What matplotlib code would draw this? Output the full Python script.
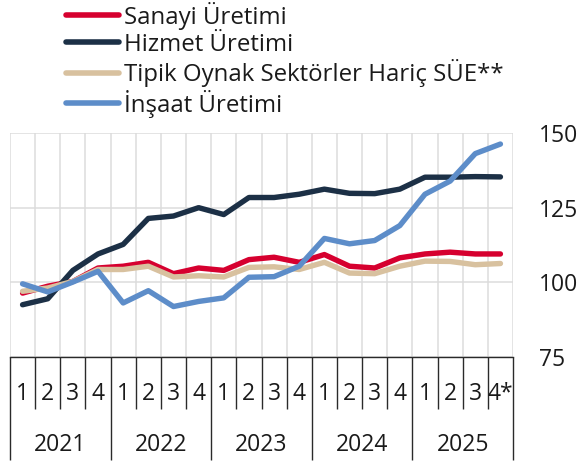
import matplotlib
matplotlib.use("Agg")
import matplotlib.pyplot as plt
from matplotlib.transforms import blended_transform_factory

plt.rcParams['font.family'] = ['Open Sans', 'DejaVu Sans']

years = ["2021", "2022", "2023", "2024", "2025"]
quarter_labels = ["1", "2", "3", "4"] * 4 + ["1", "2", "3", "4*"]

sanayi = [96.4, 98.7, 100.3, 104.8, 105.4, 106.7, 102.9, 104.8, 104.0, 107.6,
          108.4, 106.7, 109.3, 105.4, 104.8, 108.2, 109.5, 110.1, 109.5, 109.5]
hizmet = [92.5, 94.5, 104.0, 109.5, 112.7, 121.4, 122.2, 125.0, 122.7, 128.4,
          128.4, 129.5, 131.2, 129.8, 129.7, 131.2, 135.2, 135.2, 135.4, 135.3]
tipik = [97.0, 98.1, 100.3, 104.3, 104.3, 105.4, 101.8, 102.2, 101.8, 105.0,
         105.2, 104.3, 106.7, 103.1, 102.9, 105.4, 107.1, 107.0, 105.9, 106.3]
insaat = [99.5, 96.8, 100.1, 103.7, 93.1, 97.2, 91.9, 93.6, 94.8, 101.7,
          101.9, 105.4, 114.7, 112.9, 114.0, 119.0, 129.5, 133.9, 143.1, 146.3]

series_names = ["Sanayi Üretimi", "Hizmet Üretimi",
                "Tipik Oynak Sektörler Hariç SÜE**", "İnşaat Üretimi"]
series_colors = ["#D6002F", "#1C3046", "#D8C19F", "#5D8DC9"]
yticks = [75, 100, 125, 150]

fig = plt.figure(figsize=(5.81, 4.65), dpi=100)
ax = fig.add_axes([10/581, 1-357/465, 503/581, 224/465])

x = [i + 0.5 for i in range(len(sanayi))]
handles = []
for vals, name, col in zip([sanayi, hizmet, tipik, insaat], series_names, series_colors):
    h, = ax.plot(x, vals, color=col, lw=3.9, solid_joinstyle='round',
                 solid_capstyle='round', label=name, zorder=3)
    handles.append(h)

ax.set_xlim(0, 20)
ax.set_ylim(75, 150)
ax.set_yticks(yticks)
ax.set_xticks(range(0, 21))
ax.set_xticklabels([])
ax.yaxis.tick_right()
ax.tick_params(axis='y', length=0, pad=19, labelsize=16.5, labelcolor='#1a1a1a')
ax.tick_params(axis='x', length=0)
ax.grid(True, color='#DCDCDC', lw=1.1, zorder=0)
for s in ['left', 'right', 'top']:
    ax.spines[s].set_visible(False)
ax.spines['bottom'].set_color('#2a2a2a')
ax.spines['bottom'].set_linewidth(1.0)
ax.spines['bottom'].set_zorder(4)

trans = blended_transform_factory(ax.transData, ax.transAxes)
for i in range(21):
    yend = -0.46 if i % 4 == 0 else -0.232
    ax.plot([i, i], [0, yend], transform=trans, color='#2a2a2a', lw=1.0,
            clip_on=False, solid_capstyle='butt')
for i, q in enumerate(quarter_labels):
    ax.text(i + 0.5, -0.163, q, transform=trans, ha='center', va='center',
            fontsize=16.5, color='#1a1a1a')
for j, yr in enumerate(years):
    ax.text(j * 4 + 2, -0.393, yr, transform=trans, ha='center', va='center',
            fontsize=16.5, color='#1a1a1a')

leg = fig.legend(handles=handles, loc='upper left', bbox_to_anchor=(66/581, 0.996),
                 frameon=False, fontsize=17.3, handlelength=2.2, handletextpad=0.2,
                 labelspacing=0.11, borderaxespad=0, borderpad=0)
for t in leg.get_texts():
    t.set_color('#1a1a1a')
for l in leg.get_lines():
    l.set_linewidth(4.0)

fig.savefig("out.png", dpi=100)
